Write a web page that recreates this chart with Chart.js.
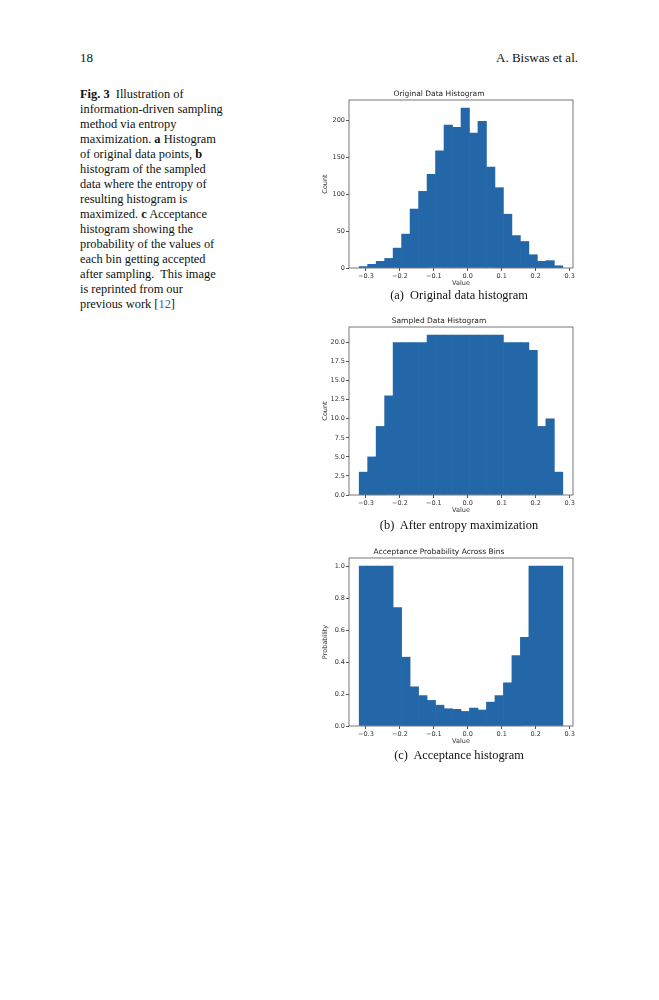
<!DOCTYPE html>
<html>
<head>
<meta charset="utf-8">
<script src="https://cdn.jsdelivr.net/npm/chart.js@4.4.1/dist/chart.umd.min.js"></script>
<style>
    body { margin: 0; background: #fff; width: 659px; height: 1000px; position: relative; font-family: 'Liberation Serif', 'DejaVu Serif', serif; color: #111; }
    .abs { position: absolute; }
    .head { top: 50px; font-size: 13px; line-height: 16px; }
    .figcap { left: 80px; top: 87px; font-size: 12.4px; line-height: 15px; }
    .sub { left: 330px; width: 258px; text-align: center; font-size: 12.4px; line-height: 15px; }
    canvas { position: absolute; left: 305px; }
    .ref { color: #3a5ba8; }
</style>
</head>
<body>
<div class="abs head" style="left:80px">18</div>
<div class="abs head" style="right:81px">A. Biswas et al.</div>

<div class="abs figcap">
<b>Fig. 3</b>&nbsp;&nbsp;Illustration of<br>
information-driven sampling<br>
method via entropy<br>
maximization. <b>a</b> Histogram<br>
of original data points, <b>b</b><br>
histogram of the sampled<br>
data where the entropy of<br>
resulting histogram is<br>
maximized. <b>c</b> Acceptance<br>
histogram showing the<br>
probability of the values of<br>
each bin getting accepted<br>
after sampling.&nbsp; This image<br>
is reprinted from our<br>
previous work [<span class="ref">12</span>]
</div>

<canvas id="histOriginal" width="280" height="206" style="top:84px"></canvas>
<div class="abs sub" style="top:288px">(a)&nbsp; Original data histogram</div>

<canvas id="histSampled" width="280" height="206" style="top:311px"></canvas>
<div class="abs sub" style="top:518px">(b)&nbsp; After entropy maximization</div>

<canvas id="histAccept" width="280" height="206" style="top:542px"></canvas>
<div class="abs sub" style="top:748px">(c)&nbsp; Acceptance histogram</div>

<script>
// bin centres (bins are 0.025 wide, from -0.32 to 0.28)
const binCenters = [-0.3075, -0.2825, -0.2575, -0.2325, -0.2075, -0.1825, -0.1575, -0.1325,
    -0.1075, -0.0825, -0.0575, -0.0325, -0.0075, 0.0175, 0.0425, 0.0675,
    0.0925, 0.1175, 0.1425, 0.1675, 0.1925, 0.2175, 0.2425, 0.2675];

const originalCounts = [2, 5, 9, 13, 27, 46, 80, 104, 127, 159, 194, 191,
    217, 183, 199, 137, 109, 73, 44, 36, 18, 9, 10, 3];
const sampledCounts = [3, 5, 9, 13, 20, 20, 20, 20, 21, 21, 21, 21,
    21, 21, 21, 21, 21, 20, 20, 20, 19, 9, 10, 3];
const acceptProb = [1.0, 1.0, 1.0, 1.0, 0.74, 0.43, 0.245, 0.19, 0.16, 0.13, 0.108, 0.104,
    0.091, 0.112, 0.10, 0.149, 0.19, 0.27, 0.44, 0.554, 1.0, 1.0, 1.0, 1.0];

const xTicks = [-0.3, -0.2, -0.1, 0.0, 0.1, 0.2, 0.3];
const countTicks = [0, 50, 100, 150, 200];
const sampledTicks = [0, 2.5, 5, 7.5, 10, 12.5, 15, 17.5, 20];
const probTicks = [0, 0.2, 0.4, 0.6, 0.8, 1.0];

Chart.defaults.font.family = "'DejaVu Sans', sans-serif";
Chart.defaults.color = '#333';

// matplotlib-style box around the plot area
const framePlugin = {
    id: 'frame',
    afterDraw(chart) {
        const { ctx, chartArea: a } = chart;
        ctx.save();
        ctx.strokeStyle = '#555';
        ctx.lineWidth = 0.8;
        ctx.strokeRect(a.left, a.top, a.right - a.left, a.bottom - a.top);
        ctx.restore();
    }
};

const fmtX = v => (v < 0 ? '\u2212' : '') + Math.abs(v).toFixed(1);

function makeHist(id, title, values, yTitle, yMax, yTicks, decimals) {
    const ctx = document.getElementById(id).getContext('2d');
    return new Chart(ctx, {
        type: 'bar',
        data: {
            datasets: [{
                data: binCenters.map((x, i) => ({ x: x, y: values[i] })),
                backgroundColor: '#2367a8',
                borderWidth: 0,
                barPercentage: 1,
                categoryPercentage: 1
            }]
        },
        options: {
            responsive: false,
            animation: false,
            layout: { padding: { left: 0, right: 12, top: 0, bottom: 0 } },
            plugins: {
                legend: { display: false },
                tooltip: { enabled: false },
                title: {
                    display: true,
                    text: title,
                    color: '#222',
                    font: { size: 7.5, weight: 'normal' },
                    padding: { top: 6, bottom: 1 }
                }
            },
            scales: {
                x: {
                    type: 'linear',
                    offset: false,
                    min: -0.35,
                    max: 0.31,
                    afterBuildTicks: s => { s.ticks = xTicks.map(v => ({ value: v })); },
                    afterFit: s => { s.height = 22; },
                    ticks: { font: { size: 6.5 }, padding: 1, maxRotation: 0, callback: v => fmtX(v) },
                    grid: { drawOnChartArea: false, offset: false, tickLength: 3, color: '#555' },
                    border: { display: false },
                    title: { display: true, text: 'Value', font: { size: 6.5 }, padding: { top: 0, bottom: 3 } }
                },
                y: {
                    min: 0,
                    max: yMax,
                    afterBuildTicks: s => { s.ticks = yTicks.map(v => ({ value: v })); },
                    afterFit: s => { s.width = 44; },
                    ticks: { font: { size: 6.5 }, padding: 1, callback: v => v.toFixed(decimals) },
                    grid: { drawOnChartArea: false, tickLength: 3, color: '#555' },
                    border: { display: false },
                    title: { display: true, text: yTitle, font: { size: 6.5 }, padding: { top: 16, bottom: 0 } }
                }
            }
        },
        plugins: [framePlugin]
    });
}

makeHist('histOriginal', 'Original Data Histogram', originalCounts, 'Count', 228, countTicks, 0);
makeHist('histSampled', 'Sampled Data Histogram', sampledCounts, 'Count', 22.05, sampledTicks, 1);
makeHist('histAccept', 'Acceptance Probability Across Bins', acceptProb, 'Probability', 1.05, probTicks, 1);
</script>
</body>
</html>
